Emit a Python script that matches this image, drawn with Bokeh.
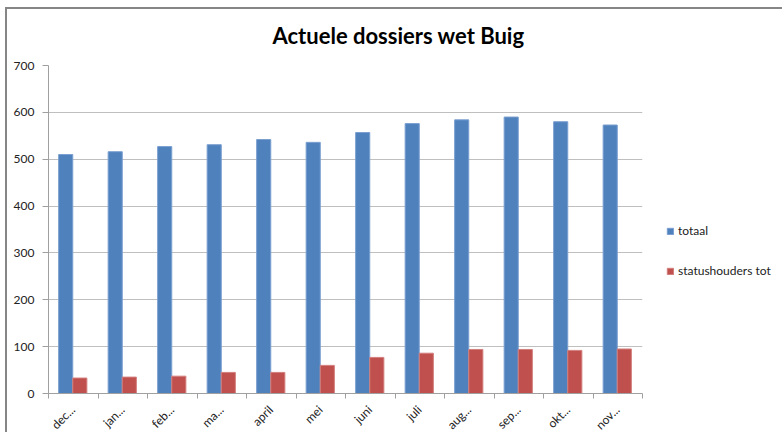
import numpy as np
from bokeh.plotting import figure
from bokeh.models import ColumnDataSource, FixedTicker, Legend, LegendItem, Range1d
from bokeh.embed import file_html
from bokeh.resources import INLINE

months = ["dec...", "jan...", "feb...", "ma...", "april", "mei", "juni", "juli",
          "aug...", "sep...", "okt...", "nov..."]
totaal = [510, 516, 527, 531, 542, 536, 557, 576, 584, 590, 580, 573]
statushouders = [33, 35, 37, 45, 45, 60, 77, 86, 94, 94, 92, 95]
y_ticks = [0, 100, 200, 300, 400, 500, 600, 700]

idx = np.arange(len(months))
centers = idx + 0.49
bw = 0.285
src = ColumnDataSource(dict(
    xb=centers - bw / 2, xr=centers + bw / 2,
    totaal=totaal, stat=statushouders))

FONT = "Lato"
p = figure(width=782, height=432, output_backend="svg", toolbar_location=None,
           x_range=Range1d(0, 12), y_range=Range1d(0, 700),
           min_border_left=48, min_border_top=65, min_border_bottom=39,
           min_border_right=140)
p.frame_width = 594
p.frame_height = 328
p.border_fill_color = None
p.background_fill_color = None
# outer chart border (top and left edges visible in the reference)
p.styles = {"box-shadow": "inset 5px 7px 0 0 #ffffff, inset 7px 9px 0 0 #868686",
            "background-color": "#ffffff"}

p.title.text = "Actuele dossiers wet Buig"
p.title.text_font = FONT
p.title.text_font_size = "22px"
p.title.text_font_style = "bold"
p.title.align = "left"
p.title.offset = 224
p.title.standoff = 33
p.title.text_color = "#000000"

rb = p.vbar(x="xb", top="totaal", width=bw, source=src,
            fill_color="#4F81BD", line_color="#7A9FD0", line_width=1)
rr = p.vbar(x="xr", top="stat", width=bw, source=src,
            fill_color="#C0504D", line_color="#D27F7D", line_width=1)

p.outline_line_color = None
p.xgrid.grid_line_color = None
p.ygrid.grid_line_color = "#BFBFBF"
p.ygrid.grid_line_width = 1
p.yaxis.ticker = FixedTicker(ticks=y_ticks)
p.yaxis.axis_line_color = "#A0A0A0"
p.yaxis.major_tick_line_color = "#A0A0A0"
p.yaxis.major_tick_out = 6
p.yaxis.major_tick_in = 0
p.yaxis.minor_tick_line_color = None
p.yaxis.major_label_text_font = FONT
p.yaxis.major_label_text_font_size = "12px"
p.yaxis.major_label_text_color = "#222222"
p.yaxis.major_label_standoff = 8

p.xaxis.ticker = FixedTicker(ticks=list(centers), minor_ticks=list(range(0, 13)))
p.xaxis.major_label_overrides = {float(c): m for c, m in zip(centers, months)}
p.xaxis.major_tick_line_color = None
p.xaxis.minor_tick_line_color = "#A0A0A0"
p.xaxis.minor_tick_out = 5
p.xaxis.minor_tick_in = 0
p.xaxis.axis_line_color = "#A0A0A0"
p.xaxis.major_label_orientation = np.pi / 4
p.xaxis.major_label_text_font = FONT
p.xaxis.major_label_text_font_size = "12px"
p.xaxis.major_label_text_color = "#222222"
p.xaxis.major_label_standoff = 8

legend = Legend(items=[LegendItem(label="totaal", renderers=[rb]),
                       LegendItem(label="statushouders tot", renderers=[rr])],
                location=(24, 115), orientation="vertical")
legend.border_line_color = None
legend.background_fill_alpha = 0
legend.padding = 0
legend.margin = 0
legend.glyph_width = 8
legend.glyph_height = 8
legend.label_height = 14
legend.label_standoff = 4
legend.spacing = 25
legend.label_text_font = FONT
legend.label_text_font_size = "12px"
legend.label_text_color = "#222222"
p.add_layout(legend, "right")

open("out.html", "w").write(file_html(p, INLINE))
